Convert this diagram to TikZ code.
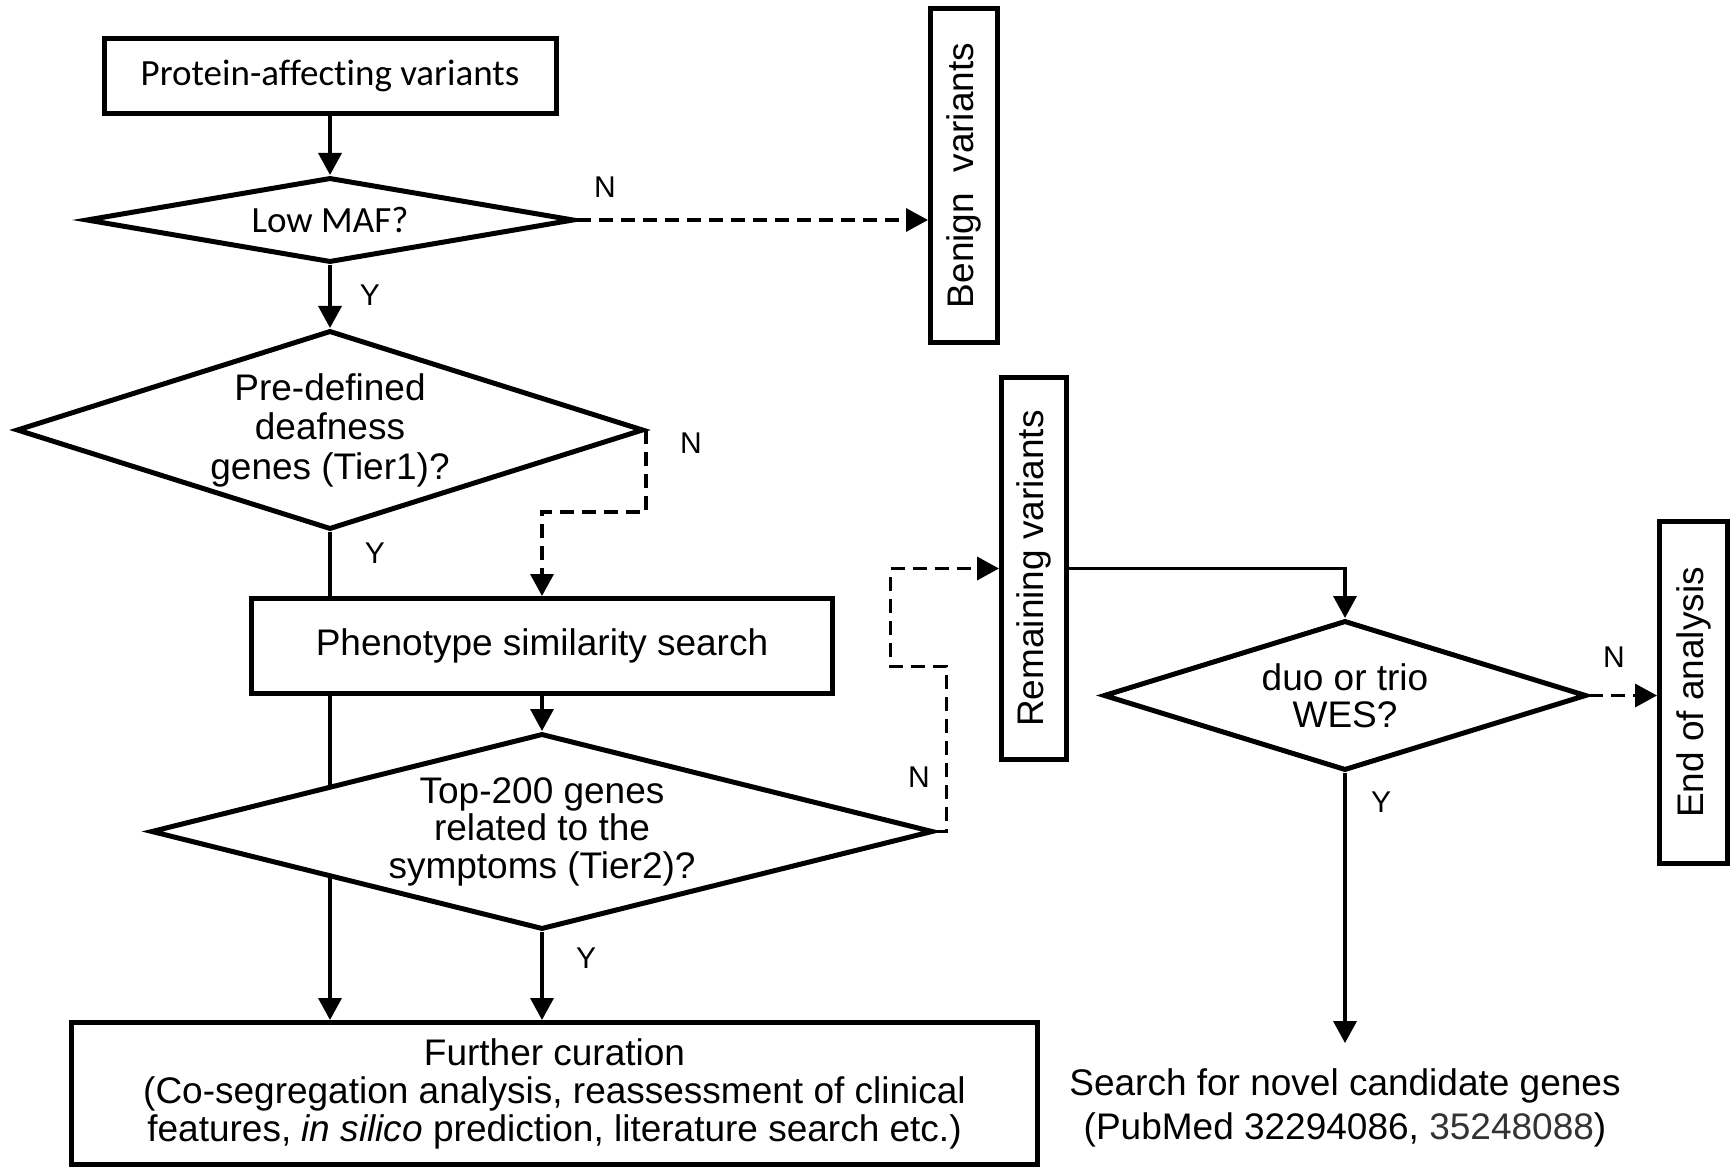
\documentclass[tikz,border=0pt]{standalone}
\usepackage{fontspec}
\setmainfont{Liberation Sans}
\newfontfamily\calfont[Ligatures=NoCommon]{Carlito}
\usepackage{graphicx}
\usetikzlibrary{shapes.geometric,arrows.meta,backgrounds}
\begin{document}
\begin{tikzpicture}[x=1pt,y=-1pt,
  box/.style={draw,line width=5pt,fill=white,inner sep=0pt,align=center,font=\fontsize{37}{38}\selectfont},
  dec/.style={draw,diamond,line width=5pt,fill=white,inner sep=0pt,align=center,font=\fontsize{37}{38}\selectfont},
  conn/.style={line width=3.5pt,-{Triangle[length=22pt,width=23pt]}},
  dconn/.style={conn,dash pattern=on 14pt off 8pt},
  lbl/.style={font=\fontsize{30}{30}\selectfont,inner sep=0pt},
]
\useasboundingbox (0,0) rectangle (1732,1174);

\node[box,minimum width=452pt,minimum height=75pt,font=\calfont\fontsize{37}{38}\selectfont] (protein) at (330,76) {Protein-affecting variants};
\node[dec,shape aspect=5.66,minimum width=488pt,minimum height=85pt,font=\calfont\fontsize{37}{38}\selectfont] (lowmaf) at (330,220) {Low MAF?};
\node[dec,shape aspect=3.15,minimum width=627pt,minimum height=199pt,font=\fontsize{37}{39.5}\selectfont] (predef) at (330,430) {Pre-defined\\deafness\\genes (Tier1)?};
\node[box,minimum width=581pt,minimum height=95pt] (pheno) at (542,646) {Phenotype similarity search};
\node[dec,shape aspect=4,minimum width=782pt,minimum height=196pt,font=\fontsize{37}{37.5}\selectfont] (top) at (542,831.5) {Top-200 genes\\related to the\\symptoms (Tier2)?};
\node[box,minimum width=966pt,minimum height=142pt] (further) at (554.5,1093.5) {Further curation\\(Co-segregation analysis, reassessment of clinical\\features, \textit{in silico} prediction, literature search etc.)};
\node[box,minimum width=67pt,minimum height=334pt] (benign) at (964,175.5) {\rotatebox{90}{Benign\ \ variants}};
\node[box,minimum width=65pt,minimum height=382pt] (remain) at (1034,568.5) {\rotatebox{90}{Remaining variants}};
\node[dec,shape aspect=3.2,minimum width=483pt,minimum height=150pt,font=\fontsize{37}{37}\selectfont] (duo) at (1345,695.5) {duo or trio\\WES?};
\node[box,minimum width=68pt,minimum height=342pt] (endan) at (1693.5,692.5) {\rotatebox{90}{End of analysis}};
\node[align=center,inner sep=25pt,font=\fontsize{37}{44}\selectfont] (search) at (1345,1107.5) {Search for novel candidate genes\\(PubMed 32294086, {\color{black!80}35248088})};

\draw[conn] (protein.south) -- (lowmaf.north);
\draw[dconn] (lowmaf.east) -- (lowmaf.east -| benign.west);
\draw[conn] (lowmaf.south) -- (predef.north);
\begin{scope}[on background layer]
\draw[conn] (predef.south) -- (predef.south |- further.north);
\end{scope}
\draw[dconn] (predef.east) -- ++(0,82) -| (pheno.north);
\draw[conn] (pheno.south) -- (top.north);
\draw[conn] (top.south) -- (top.south |- further.north);
\draw[dconn] (top.east) -- ++(11,0) -- ++(0,-165) -- ++(-56,0) |- (remain.west);
\draw[conn] (remain.east) -| (duo.north);
\draw[dconn] (duo.east) -- (duo.east -| endan.west);
\draw[conn] (duo.south) -- (search.north);

\node[lbl] (n1) at (605,187) {N};
\node[lbl] (y1) at (370,295) {Y};
\node[lbl] (n2) at (691,443) {N};
\node[lbl] (y2) at (375,553) {Y};
\node[lbl] (n3) at (919,777) {N};
\node[lbl] (y3) at (586,958) {Y};
\node[lbl] (n4) at (1614,657) {N};
\node[lbl] (y4) at (1381,802) {Y};
\end{tikzpicture}
\end{document}
